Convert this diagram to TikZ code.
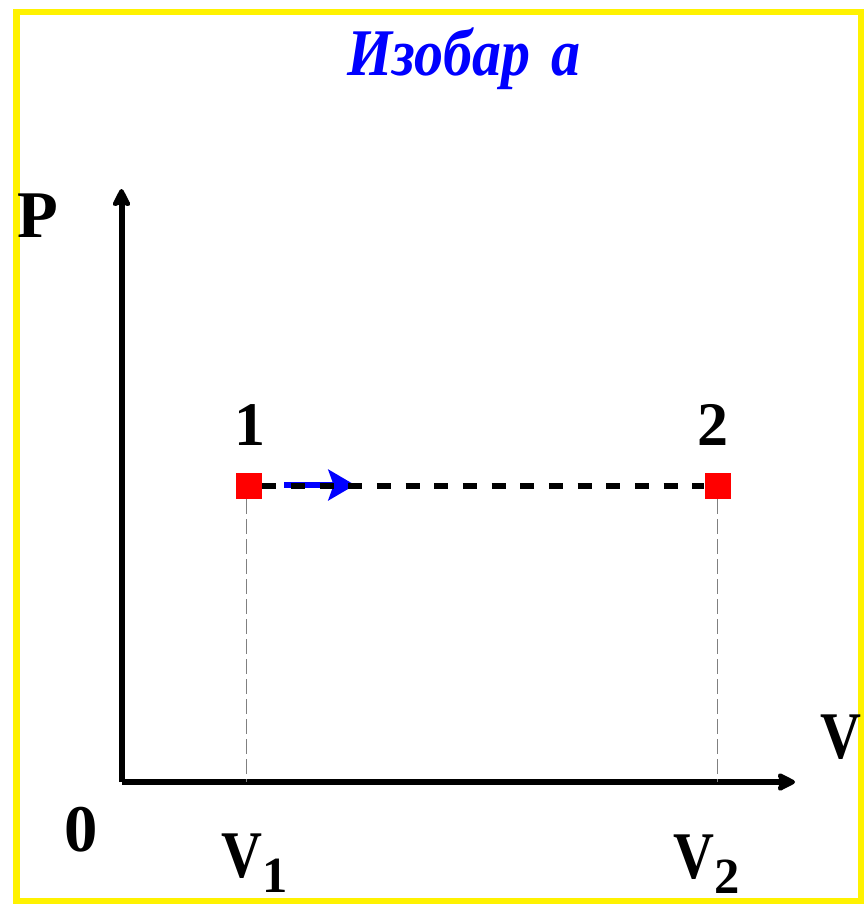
\documentclass[tikz,border=0pt]{standalone}
\usepackage{fontspec}
\setmainfont{Liberation Serif}
\usetikzlibrary{arrows.meta}
\begin{document}
\begin{tikzpicture}[x=0.75pt,y=-0.75pt,
  frame/.style={draw=yellow,line width=5pt},
  axis/.style={line width=4.5pt,-{Stealth[length=16pt,width=16pt,inset=3pt,round]}},
  ptbox/.style={rectangle,fill=red,minimum size=19.5pt,inner sep=0pt},
  isoline/.style={line width=4pt,dash pattern=on 10.5pt off 11pt},
  dir/.style={blue,line width=4pt,-{Stealth[length=20pt,width=23pt,inset=4pt]}},
  guide/.style={gray,line width=0.75pt,dash pattern=on 11pt off 4pt},
  lbl/.style={font=\fontsize{50}{50}\selectfont\bfseries,inner sep=0pt,anchor=base},
  num/.style={font=\fontsize{46.5}{47}\selectfont\bfseries,inner sep=0pt,anchor=base},
  ttl/.style={font=\fontsize{50}{50}\selectfont\bfseries\itshape,text=blue,inner sep=0pt,anchor=base}
]
\useasboundingbox (0,0) rectangle (865,906);
\draw[frame] (16.5,12) rectangle (861,901);

\node[ttl] (title) at (464,75) {\scalebox{0.87}[1]{Изобар}\hspace{16pt}\scalebox{0.87}[1]{а}};

\coordinate (O) at (121.5,782);
\coordinate (Ptop) at (121.5,189);
\coordinate (Vend) at (795,782);
\draw[axis] (O) -- (Ptop);
\draw[axis] (O) -- (Vend);

\node[ptbox] (p1) at (249,486) {};
\node[ptbox] (p2) at (717.5,486) {};

\draw[guide] ([xshift=-2.25pt]p1.south) -- ([xshift=-2.25pt]p1.south |- O);
\draw[guide] (p2.south) -- (p2.south |- O);

\coordinate (a1) at (284,485);
\coordinate (a2) at (355,485);
\draw[dir] (a1) -- (a2);
\draw[isoline] (p1.east) -- (p2.west);

\node[num] (n1) at (250,445) {1};
\node[num] (n2) at (713,445) {2};
\node[lbl] (P) at (38,237) {P};
\node[lbl] (V) at (841,758) {\scalebox{0.85}[1]{V}};
\node[lbl] (zero) at (81,851) {0};
\node[lbl,anchor=base west] (V1) at (221,877) {\scalebox{0.85}[1]{V}\raisebox{-11.25pt}{\fontsize{38}{38}\selectfont 1}};
\node[lbl,anchor=base west] (V2) at (673,878) {\scalebox{0.85}[1]{V}\raisebox{-11.25pt}{\fontsize{38}{38}\selectfont 2}};
\end{tikzpicture}
\end{document}
